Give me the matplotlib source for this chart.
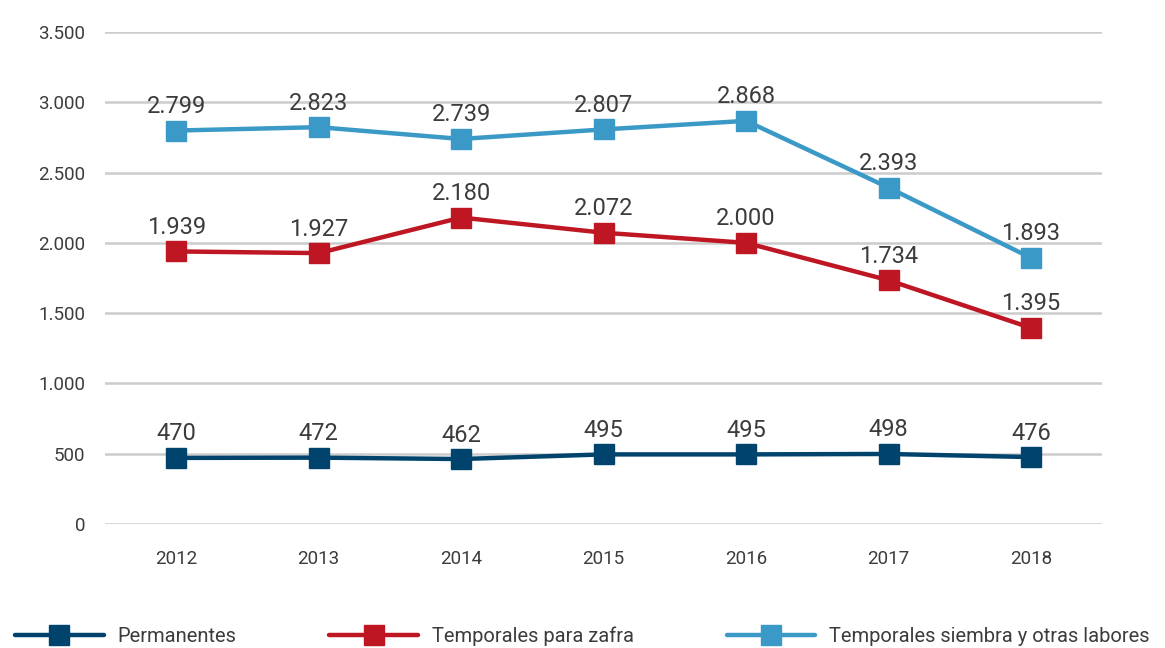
import numpy as np
import matplotlib.pyplot as plt
from matplotlib.ticker import FuncFormatter

plt.rcParams['font.family'] = ['Roboto', 'DejaVu Sans']

years = ["2012", "2013", "2014", "2015", "2016", "2017", "2018"]
permanentes = [470, 472, 462, 495, 495, 498, 476]
zafra = [1939, 1927, 2180, 2072, 2000, 1734, 1395]
siembra = [2799, 2823, 2739, 2807, 2868, 2393, 1893]

series = [
    ("Permanentes", permanentes, "#00446e"),
    ("Temporales para zafra", zafra, "#be1622"),
    ("Temporales siembra y otras labores", siembra, "#3a99c6"),
]

text_color = "#3c3c3c"


def fmt_num(v):
    return f"{v:,.0f}".replace(",", ".")


fig = plt.figure(figsize=(11.65, 6.48), dpi=100)
ax = fig.add_axes([0.0901, 0.1914, 0.856, 0.7592])

x = np.arange(len(years))
for name, vals, color in series:
    ax.plot(x, vals, color=color, linewidth=3.2, marker="s", markersize=14,
            label=name, zorder=3, solid_capstyle="round")
    for xi, v in zip(x, vals):
        ax.annotate(fmt_num(v), (xi, v), xytext=(0, 9), textcoords="offset points",
                    ha="center", va="bottom", fontsize=17, color=text_color)

ax.set_xlim(-0.5, len(years) - 0.5)
ax.set_ylim(0, 3500)
ax.set_yticks(np.arange(0, 3501, 500))
ax.yaxis.set_major_formatter(FuncFormatter(lambda v, p: fmt_num(v)))
ax.set_xticks(x)
ax.set_xticklabels(years)
ax.tick_params(axis="both", length=0, labelsize=13.5, colors=text_color)
ax.tick_params(axis="x", pad=19)
ax.tick_params(axis="y", pad=14)
ax.grid(axis="y", color="#cccccc", linewidth=1.8)
ax.set_axisbelow(True)
for s in ax.spines.values():
    s.set_visible(False)

fig.legend(loc="center", bbox_to_anchor=(0.5, 1 - 636 / 648), ncol=3, frameon=False,
           fontsize=14.5, handlelength=4.4, columnspacing=4.6, handletextpad=0.7,
           labelcolor=text_color)

plt.savefig("out.png", dpi=100)
